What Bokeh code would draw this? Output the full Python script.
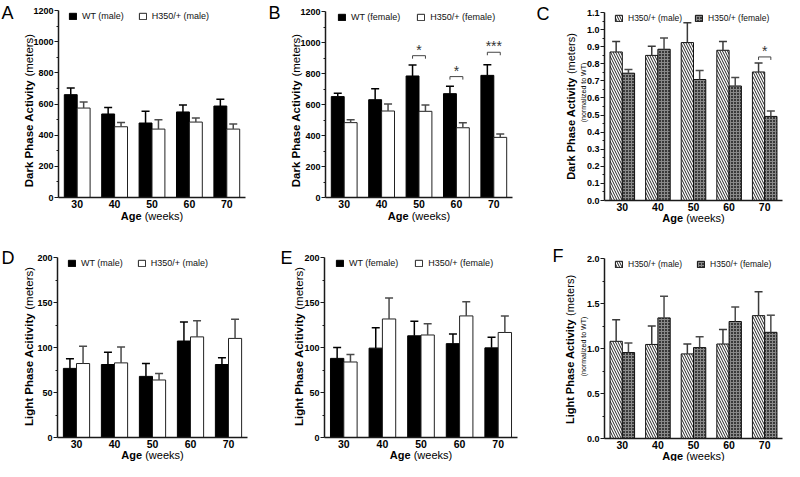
import math
from bokeh.plotting import figure
from bokeh.models import (ColumnDataSource, Range1d, Whisker, TeeHead, LabelSet, LinearAxis,
                          FixedTicker, NumeralTickFormatter, BasicTickFormatter, Legend, LegendItem)
from bokeh.core.properties import value
from bokeh.transform import dodge
from bokeh.layouts import column, row
from bokeh.embed import file_html
from bokeh.resources import INLINE

FONT = "Liberation Sans"

ages = ["30", "40", "50", "60", "70"]

# Panel A: dark phase, males (meters)
a_wt_mean = [660, 536, 478, 549, 587]
a_wt_sem = [43, 42, 75, 45, 43]
a_mut_mean = [574, 454, 439, 484, 439]
a_mut_sem = [39, 28, 60, 26, 32]

# Panel B: dark phase, females (meters)
b_wt_mean = [651, 631, 784, 670, 788]
b_wt_sem = [21, 71, 71, 47, 69]
b_mut_mean = [483, 558, 556, 450, 388]
b_mut_sem = [19, 45, 41, 33, 21]
b_sig_ages = ["50", "60", "70"]
b_sig_level = [915, 780, 937]
b_sig_text = ["*", "*", "***"]

# Panel C: dark phase normalized to WT
c_male_mean = [0.869, 0.849, 0.924, 0.879, 0.752]
c_male_sem = [0.061, 0.053, 0.116, 0.051, 0.053]
c_female_mean = [0.745, 0.885, 0.708, 0.670, 0.492]
c_female_sem = [0.022, 0.066, 0.053, 0.050, 0.031]
c_sig_ages = ["70"]
c_sig_level = [0.84]
c_sig_text = ["*"]

# Panel D: light phase, males (meters)
d_wt_mean = [76.8, 81.1, 67.9, 107.2, 81.1]
d_wt_sem = [10.8, 13.7, 14.3, 21.1, 7.6]
d_mut_mean = [82.2, 82.9, 63.9, 111.8, 110.1]
d_mut_sem = [19.1, 17.6, 7.2, 17.9, 21.2]

# Panel E: light phase, females (meters)
e_wt_mean = [87.9, 99.3, 113.0, 104.3, 99.6]
e_wt_sem = [12.1, 22.7, 16.3, 10.7, 11.8]
e_mut_mean = [83.9, 131.7, 113.9, 135.1, 116.7]
e_mut_sem = [8.2, 23.3, 12.5, 15.6, 18.2]

# Panel F: light phase normalized to WT
f_male_mean = [1.08, 1.045, 0.94, 1.05, 1.365]
f_male_sem = [0.24, 0.205, 0.11, 0.16, 0.265]
f_female_mean = [0.955, 1.34, 1.01, 1.30, 1.18]
f_female_sem = [0.105, 0.24, 0.12, 0.16, 0.19]

# category positions on the numeric x scale (1..N)
cat_pos = list(range(1, len(ages) + 1))
pos_of = dict(zip(ages, cat_pos))

# ---- styles ----
WT_STYLE = dict(fill_color="black", line_color="black", line_width=1)
MUT_STYLE = dict(fill_color="white", line_color="#222222", line_width=1)
MALE_STYLE = dict(fill_color="white", line_color="#111111", line_width=1,
                  hatch_pattern="left_diagonal_line", hatch_color="#222222",
                  hatch_scale=5, hatch_weight=1)
FEMALE_STYLE = dict(fill_color="#3a3a3a", line_color="#111111", line_width=1,
                    hatch_pattern="cross", hatch_color="#8a8a8a",
                    hatch_scale=3, hatch_weight=1)

REG = {' ': 278, '(': 333, ')': 333, 'a': 556, 'd': 556, 'e': 556, 'i': 222, 'k': 500,
       'l': 222, 'm': 833, 'n': 556, 'o': 556, 'r': 333, 's': 500, 't': 278, 'w': 722,
       'z': 500, 'T': 611, 'W': 944, 'f': 278}
BLD = {' ': 278, 'A': 722, 'D': 722, 'L': 611, 'P': 667, 'a': 556, 'c': 556, 'e': 556,
       'g': 611, 'h': 611, 'i': 278, 'k': 556, 'r': 389, 's': 556, 't': 333, 'v': 556, 'y': 556}


def tw(s, size, bold=False):
    tab = BLD if bold else REG
    return sum(tab.get(ch, 556) for ch in s) * size / 1000.0


def page_label(p, area, px, py, text, size, bold=False, angle=0.0, align="left",
               baseline="middle", color="black"):
    """Text at layout coordinates, anchored at the data origin (x=0.5, y=0) plus pixel offsets."""
    dl, dt, dr, db = area
    if baseline == "middle":
        baseline = "alphabetic"
        if angle:
            px = px + 0.35 * size
        else:
            py = py + 0.35 * size
    src = ColumnDataSource(dict(x=[0.5], y=[0.0], t=[text]))
    p.add_layout(LabelSet(x="x", y="y", text="t", source=src,
                          x_offset=px - dl, y_offset=db - py, angle=angle,
                          text_align=align, text_baseline=baseline, text_font=value(FONT),
                          text_font_size=f"{size}px",
                          text_font_style="bold" if bold else "normal", text_color=color))


def mixed_vertical(p, area, cx, cy, bold_txt, norm_txt, size):
    wb = tw(bold_txt, size, True)
    ws = tw(" ", size)
    wn = tw(norm_txt, size)
    start = cy + (wb + ws + wn) / 2.0
    page_label(p, area, cx, start, bold_txt, size, bold=True, angle=math.pi / 2)
    page_label(p, area, cx, start - wb - ws, norm_txt, size, angle=math.pi / 2)


def mixed_horizontal(p, area, cx, cy, bold_txt, norm_txt, size):
    wb = tw(bold_txt, size, True)
    ws = tw(" ", size)
    wn = tw(norm_txt, size)
    start = cx - (wb + ws + wn) / 2.0
    page_label(p, area, start, cy, bold_txt, size, bold=True)
    page_label(p, area, start + wb + ws, cy, norm_txt, size)


def make_panel(letter, geom, ymax, major, fmt, m1, s1, m2, s2, st1, st2, lab1, lab2,
               ytitle, legend_dx, legend_spacing, legend_font, letter_pos, xtitle_gap, sig=None):
    (fx, fy, fw, fh), area = geom
    dl, dt, dr, db = area
    ncat = len(ages)
    xunit = (dr - dl) / ncat
    yunit = (db - dt) / ymax
    x0, x1 = 0.5, ncat + 0.5
    xr = Range1d(x0 - (dl - fx) / xunit, x1 + (fx + fw - dr) / xunit)
    yr = Range1d(-(fy + fh - db) / yunit, ymax + (dt - fy) / yunit)
    p = figure(width=fw, height=fh, x_range=xr, y_range=yr, title=None,
               x_axis_location=None, y_axis_location=None,
               min_border_left=0, min_border_right=0, min_border_top=0, min_border_bottom=0,
               toolbar_location=None, output_backend="svg")
    p.outline_line_color = None
    p.grid.visible = False
    p.background_fill_color = "white"
    p.border_fill_color = "white"

    d = 0.1725
    bw = 0.345
    src = ColumnDataSource(dict(xc=cat_pos, m1=m1, m2=m2,
                                u1=[a + b for a, b in zip(m1, s1)],
                                u2=[a + b for a, b in zip(m2, s2)]))
    r1 = p.vbar(x=dodge("xc", -d), top="m1", width=bw, source=src, **st1)
    r2 = p.vbar(x=dodge("xc", d), top="m2", width=bw, source=src, **st2)

    c1 = "black" if st1["fill_color"] == "black" else "#3a3a3a"
    for off, lo, up, col in ((-d, "m1", "u1", c1), (d, "m2", "u2", "#4a4a4a")):
        w = Whisker(source=src, base=dodge("xc", off), lower=lo, upper=up,
                    dimension="height", line_color=col, line_width=1.5, level="annotation",
                    upper_head=TeeHead(size=8, line_color=col, line_width=1.5), lower_head=None)
        p.add_layout(w)

    # axes drawn at the data origin
    n = int(round(ymax / major))
    yax = LinearAxis(fixed_location=x0, bounds=(0, ymax),
                     ticker=FixedTicker(ticks=[round(i * major, 6) for i in range(n + 1)],
                                        minor_ticks=[round((i + 0.5) * major, 6) for i in range(n)]),
                     formatter=NumeralTickFormatter(format=fmt) if fmt else BasicTickFormatter())
    xax = LinearAxis(fixed_location=0, bounds=(x0, x1), ticker=FixedTicker(ticks=cat_pos),
                     major_label_overrides={k: v for k, v in zip(cat_pos, ages)})
    for ax in (xax, yax):
        ax.axis_line_color = "#1a1a1a"
        ax.axis_line_width = 1.5
        ax.major_label_text_font = FONT
        ax.major_label_text_font_style = "bold"
        ax.major_label_text_color = "black"
    xax.major_tick_line_color = None
    xax.minor_tick_line_color = None
    xax.major_tick_out = 0
    xax.major_tick_in = 0
    xax.minor_tick_out = 0
    xax.minor_tick_in = 0
    xax.major_label_text_font_size = "10.5px"
    xax.major_label_standoff = 2
    yax.major_label_text_font_size = "9px"
    yax.major_tick_out = 4
    yax.major_tick_in = 0
    yax.minor_tick_out = 2
    yax.minor_tick_in = 0
    yax.major_tick_line_color = "#1a1a1a"
    yax.minor_tick_line_color = "#1a1a1a"
    yax.major_tick_line_width = 1.2
    yax.minor_tick_line_width = 1
    yax.major_label_standoff = 1
    p.add_layout(xax, "below")
    p.add_layout(yax, "left")

    # legend (location measured from the canvas bottom-left)
    leg = Legend(items=[LegendItem(label=lab1, renderers=[r1]), LegendItem(label=lab2, renderers=[r2])],
                 location=(dl - fx + legend_dx, (fy + fh) - (dt + 3) - 8), orientation="horizontal",
                 label_text_font=FONT, label_text_font_size=legend_font, label_text_color="#111111",
                 glyph_width=9, glyph_height=8, label_height=10, label_standoff=5,
                 spacing=legend_spacing, padding=0, margin=0,
                 border_line_color=None, background_fill_alpha=0)
    p.add_layout(leg)

    # significance brackets
    if sig is not None:
        s_ages, s_lev, s_txt = sig
        tick = 3.0 / yunit
        ssrc = ColumnDataSource(dict(xc=[pos_of[a] for a in s_ages], y=s_lev,
                                     yt=[v - tick for v in s_lev], t=s_txt))
        bstyle = dict(line_color="#444444", line_width=1)
        p.segment(x0=dodge("xc", -d), y0="y", x1=dodge("xc", d), y1="y", source=ssrc, **bstyle)
        p.segment(x0=dodge("xc", -d), y0="y", x1=dodge("xc", -d), y1="yt", source=ssrc, **bstyle)
        p.segment(x0=dodge("xc", d), y0="y", x1=dodge("xc", d), y1="yt", source=ssrc, **bstyle)
        p.add_layout(LabelSet(x="xc", y="y", text="t", source=ssrc, text_align="center",
                              text_baseline="alphabetic", y_offset=1, text_font=value(FONT),
                              text_font_size="14px", text_color="#333333"))

    # titles
    for item in ytitle:
        cx, cy, bt, nt, size = item
        if bt:
            mixed_vertical(p, area, cx, cy, bt, nt, size)
        else:
            page_label(p, area, cx, cy, nt, size, angle=math.pi / 2, align="center")
    mixed_horizontal(p, area, (dl + dr) / 2.0, db + xtitle_gap, "Age", "(weeks)", 11)
    page_label(p, area, letter_pos[0], letter_pos[1], letter, 18, baseline="top")
    return p


# (figure left, top, width, height), (plot area left, top, right, bottom) in layout pixels
GEOM = {
    "A": ((0, 0, 265, 230), (58, 10, 245, 197)),
    "B": ((265, 0, 265, 230), (325, 11, 512, 197)),
    "C": ((530, 0, 254, 230), (604, 12, 782, 200)),
    "D": ((0, 230, 265, 231), (57, 257, 247, 437)),
    "E": ((265, 230, 265, 231), (324, 257, 517, 437)),
    "F": ((530, 230, 254, 231), (604, 258, 782, 438)),
}

pA = make_panel("A", GEOM["A"], 1200, 200, None, a_wt_mean, a_wt_sem, a_mut_mean, a_mut_sem,
                WT_STYLE, MUT_STYLE, "WT (male)", "H350/+ (male)",
                [(28, 110, "Dark Phase Activity", "(meters)", 11.5)], 10, 14, "9px", (1, 2), 19)
pB = make_panel("B", GEOM["B"], 1200, 200, None, b_wt_mean, b_wt_sem, b_mut_mean, b_mut_sem,
                WT_STYLE, MUT_STYLE, "WT (female)", "H350/+ (female)",
                [(295, 110, "Dark Phase Activity", "(meters)", 11.5)], 12, 16, "9px", (268, 2), 19,
                sig=(b_sig_ages, b_sig_level, b_sig_text))
pC = make_panel("C", GEOM["C"], 1.1, 0.1, "0.0", c_male_mean, c_male_sem, c_female_mean, c_female_sem,
                MALE_STYLE, FEMALE_STYLE, "H350/+ (male)", "H350/+ (female)",
                [(571, 106, "Dark Phase Activity", "(meters)", 11),
                 (583, 92, None, "(normalized to WT)", 7)], 10, 12, "8.5px", (536, 3), 18,
                sig=(c_sig_ages, c_sig_level, c_sig_text))
pD = make_panel("D", GEOM["D"], 200, 50, None, d_wt_mean, d_wt_sem, d_mut_mean, d_mut_sem,
                WT_STYLE, MUT_STYLE, "WT (male)", "H350/+ (male)",
                [(28, 346, "Light Phase Acitivity", "(meters)", 11.5)], 10, 14, "9px", (1, 247), 18)
pE = make_panel("E", GEOM["E"], 200, 50, None, e_wt_mean, e_wt_sem, e_mut_mean, e_mut_sem,
                WT_STYLE, MUT_STYLE, "WT (female)", "H350/+ (female)",
                [(298, 346, "Light Phase Acitivity", "(meters)", 11.5)], 11, 16, "9px", (280, 247), 18)
pF = make_panel("F", GEOM["F"], 2.0, 0.5, "0.0", f_male_mean, f_male_sem, f_female_mean, f_female_sem,
                MALE_STYLE, FEMALE_STYLE, "H350/+ (male)", "H350/+ (female)",
                [(570, 349, "Light Phase Activity", "(meters)", 11),
                 (583, 346, None, "(normalized to WT)", 7)], 10, 14, "8.5px", (552, 245), 18)

layout = column(row(pA, pB, pC, spacing=0), row(pD, pE, pF, spacing=0), spacing=0)

with open("out.html", "w") as f:
    f.write(file_html(layout, INLINE))
